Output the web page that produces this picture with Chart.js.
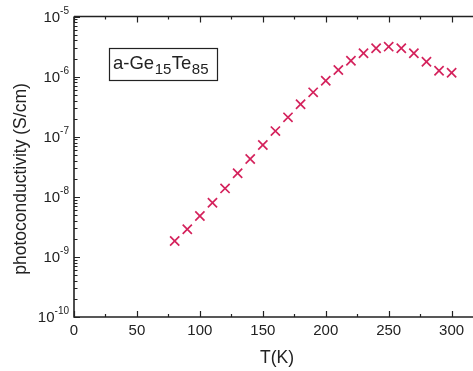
<!DOCTYPE html>
<html>
<head>
<meta charset="utf-8">
<script src="https://cdn.jsdelivr.net/npm/chart.js@4/dist/chart.umd.min.js"></script>
<style>
  html, body { margin: 0; padding: 0; background: #fff; overflow: hidden; }
  #wrap { width: 485px; height: 371px; }
</style>
</head>
<body>
<div id="wrap"><canvas id="c" width="485" height="371"></canvas></div>
<script>
const temps = [80, 90, 100, 110, 120, 130, 140, 150, 160, 170, 180, 190, 200,
  210, 220, 230, 240, 250, 260, 270, 280, 290, 300];
const sigma = [1.84e-9, 2.88e-9, 4.8e-9, 7.98e-9, 1.38e-8, 2.46e-8, 4.26e-8, 7.28e-8,
  1.24e-7, 2.1e-7, 3.46e-7, 5.47e-7, 8.55e-7, 1.29e-6, 1.84e-6, 2.44e-6, 2.96e-6,
  3.15e-6, 2.96e-6, 2.44e-6, 1.77e-6, 1.25e-6, 1.16e-6];
const xTicks = [0, 50, 100, 150, 200, 250, 300];
const xMinor = [25, 75, 125, 175, 225, 275];
const yExp = [-10, -9, -8, -7, -6, -5];

const FONT = '"Liberation Sans", Arial, sans-serif';
const INK = "#222";
const MARK = "#d4225c";

const axesPlugin = {
  id: "axes",
  afterDraw(chart) {
    const { ctx, chartArea: a, scales: { x, y } } = chart;
    ctx.save();
    ctx.strokeStyle = INK;
    ctx.lineWidth = 1.6;
    ctx.beginPath();
    ctx.moveTo(a.left, a.top);
    ctx.lineTo(a.left, a.bottom);
    ctx.lineTo(a.right + 5, a.bottom);
    ctx.moveTo(a.left, a.top);
    ctx.lineTo(a.right + 5, a.top);
    ctx.stroke();

    ctx.lineWidth = 1.2;
    ctx.beginPath();
    xTicks.forEach((v) => {
      const px = Math.round(x.getPixelForValue(v)) + 0.5;
      ctx.moveTo(px, a.bottom); ctx.lineTo(px, a.bottom - 6);
      ctx.moveTo(px, a.top); ctx.lineTo(px, a.top + 6);
    });
    xMinor.forEach((v) => {
      const px = Math.round(x.getPixelForValue(v)) + 0.5;
      ctx.moveTo(px, a.bottom); ctx.lineTo(px, a.bottom - 3);
      ctx.moveTo(px, a.top); ctx.lineTo(px, a.top + 3);
    });
    yExp.forEach((e) => {
      const py = Math.round(y.getPixelForValue(Math.pow(10, e))) + 0.5;
      ctx.moveTo(a.left, py); ctx.lineTo(a.left + 6, py);
      if (e < -5) {
        for (let m = 2; m < 10; m++) {
          const q = Math.round(y.getPixelForValue(m * Math.pow(10, e))) + 0.5;
          ctx.moveTo(a.left, q); ctx.lineTo(a.left + 3.5, q);
        }
      }
    });
    ctx.stroke();

    // x tick labels
    ctx.fillStyle = INK;
    ctx.font = "15px " + FONT;
    ctx.textAlign = "center";
    ctx.textBaseline = "top";
    xTicks.forEach((v) => ctx.fillText(String(v), x.getPixelForValue(v), 323));

    // y tick labels: 10^e
    yExp.forEach((e) => {
      const py = y.getPixelForValue(Math.pow(10, e));
      ctx.font = "10px " + FONT;
      const sup = String(e);
      const sw = ctx.measureText(sup).width;
      ctx.textAlign = "left";
      ctx.textBaseline = "alphabetic";
      const right = a.left - 5;
      ctx.fillText(sup, right - sw, py - 3);
      ctx.font = "15px " + FONT;
      ctx.textAlign = "right";
      ctx.textBaseline = "middle";
      ctx.fillText("10", right - sw, py + 1);
    });

    // axis titles
    ctx.font = "17.5px " + FONT;
    ctx.textAlign = "center";
    ctx.textBaseline = "middle";
    ctx.fillText("T(K)", 277, 358);
    ctx.save();
    ctx.translate(21, 179);
    ctx.rotate(-Math.PI / 2);
    ctx.fillText("photoconductivity (S/cm)", 0, 0);
    ctx.restore();

    // sample label box
    ctx.lineWidth = 1.2;
    ctx.strokeRect(109.5, 48.5, 108, 32);
    const parts = [["a-Ge", 18.5, 0], ["15", 15, 4.5], ["Te", 18.5, 0], ["85", 15, 4.5]];
    let tx = 113;
    ctx.textAlign = "left";
    ctx.textBaseline = "alphabetic";
    parts.forEach(([t, s, dy]) => {
      ctx.font = s + "px " + FONT;
      ctx.fillText(t, tx, 69 + dy);
      tx += ctx.measureText(t).width + 0.5;
    });
    ctx.restore();
  },
};

new Chart(document.getElementById("c"), {
  type: "scatter",
  data: {
    datasets: [{
      data: temps.map((t, i) => ({ x: t, y: sigma[i] })),
      pointStyle: "crossRot",
      pointRadius: 6.5,
      pointBorderWidth: 1.7,
      borderColor: MARK,
      backgroundColor: MARK,
    }],
  },
  options: {
    responsive: false,
    animation: false,
    layout: { padding: { top: 16.5, right: 6, left: 0, bottom: 0 } },
    plugins: { legend: { display: false }, tooltip: { enabled: false } },
    scales: {
      x: {
        type: "linear",
        min: 0,
        max: 320,
        grid: { display: false },
        border: { display: false },
        ticks: { display: false },
        afterFit: (s) => { s.height = 54; },
      },
      y: {
        type: "logarithmic",
        min: 1e-10,
        max: 1e-5,
        grid: { display: false },
        border: { display: false },
        ticks: { display: false },
        afterFit: (s) => { s.width = 74; },
      },
    },
  },
  plugins: [axesPlugin],
});
</script>
</body>
</html>
